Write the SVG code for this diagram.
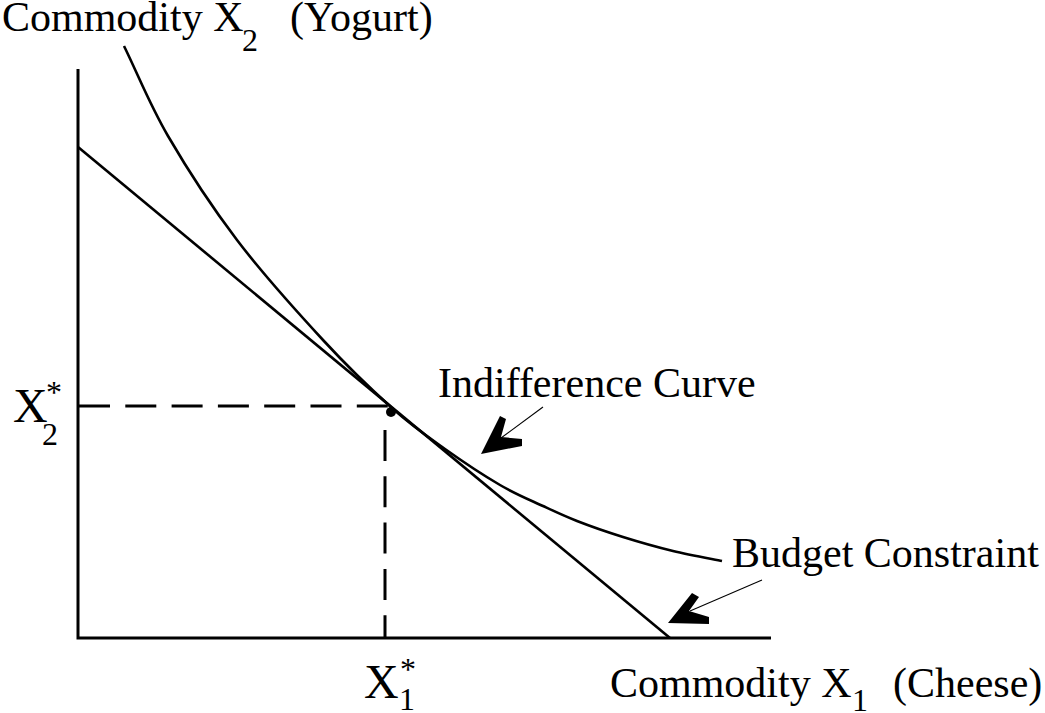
<svg xmlns="http://www.w3.org/2000/svg" width="1045" height="713" viewBox="0 0 1045 713">
<style>
.ax{stroke:#000;stroke-width:3;fill:none}
.cv{stroke:#000;stroke-width:2.6;fill:none}
.ds{stroke:#000;stroke-width:3;fill:none;stroke-dasharray:31 15.3}
.thin{stroke:#000;stroke-width:1.1;fill:none}
.t{font-family:"Liberation Serif","Times New Roman",serif;font-size:42px;fill:#000}
.b{font-family:"Liberation Serif","Times New Roman",serif;font-size:48px;fill:#000}
.s{font-family:"Liberation Serif","Times New Roman",serif;font-size:32px;fill:#000}
</style>
<rect width="1045" height="713" fill="#fff"/>
<g id="axes">
<path class="ax" d="M78 69 V638 H771"/>
</g>
<g id="connectors">
<path id="budget-line" class="cv" d="M78 147 L670 638"/>
<path id="indifference-curve" class="cv" d="M124 46 C138.7 76 149.2 103.7 168 136 C186.8 168.3 211.2 206 237 240 C262.8 274 297.2 312 323 340 C348.8 368 371.7 389.8 392 408 C412.3 426.2 427 436.2 445 449 C463 461.8 483.7 475.5 500 485 C516.3 494.5 530.2 500 543 506 C555.8 512 563.7 515.8 577 521 C590.3 526.2 607 532 623 537 C639 542 656.5 547 673 551 C689.5 555 713.8 559.3 722 561"/>
<path class="ds" d="M79 406 H390"/>
<path class="ds" d="M385 430 V638"/>
<line class="thin" x1="543" y1="407" x2="501" y2="438"/>
<polygon points="481,454 500,416 506,419 501,437 522,439 522,446"/>
<line class="thin" x1="762" y1="580" x2="690" y2="611"/>
<polygon points="668,623 692,593 699,597 689,611 709,617 709,624"/>
</g>
<g id="optimum">
<circle cx="391" cy="412" r="5" fill="#000"/>
</g>
<g id="y-axis-label">
<text class="t" x="2" y="31">Commodity X</text>
<text class="s" x="242" y="51">2</text>
<text class="t" x="290" y="31">(Yogurt)</text>
</g>
<g id="x-axis-label">
<text class="t" x="610" y="697">Commodity X</text>
<text class="s" x="852" y="711">1</text>
<text class="t" x="893" y="697">(Cheese)</text>
</g>
<g id="x2-star">
<text class="b" x="13" y="422">X</text>
<text class="s" x="46" y="403">*</text>
<text class="s" x="42" y="445">2</text>
</g>
<g id="x1-star">
<text class="b" x="364" y="698">X</text>
<text class="s" x="400" y="680">*</text>
<text class="s" x="399" y="710">1</text>
</g>
<g id="indifference-label">
<text class="t" x="438" y="397">Indifference Curve</text>
</g>
<g id="budget-label">
<text class="t" x="732" y="567">Budget Constraint</text>
</g>
</svg>
